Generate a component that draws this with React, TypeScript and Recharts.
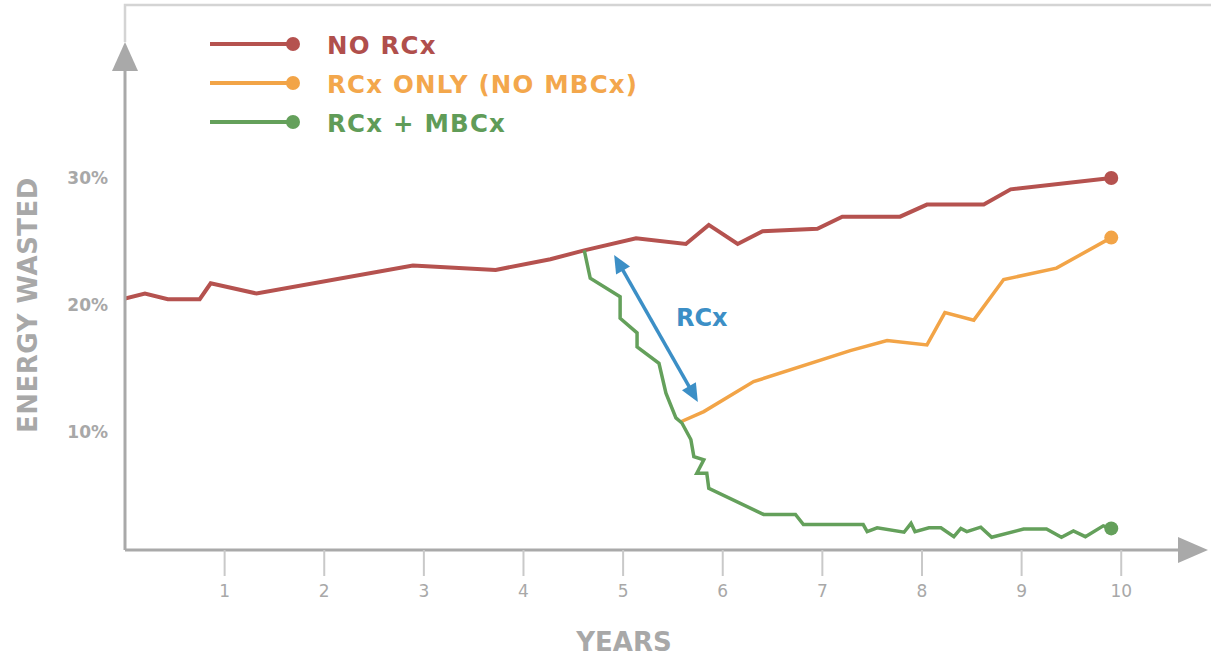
import React from 'react';
import { LineChart, Line, XAxis, YAxis, ReferenceLine, ReferenceDot, Legend } from 'recharts';

// ---- data ----
const noRcxYears = [0, 0.2, 0.43, 0.75, 0.86, 1.32, 2.89, 3.72, 4.27, 4.61, 5.13, 5.63, 5.86, 6.15, 6.4, 6.95, 7.2, 7.78, 8.05, 8.62, 8.89, 9.9];
const noRcxValues = [20.5, 20.9, 20.45, 20.45, 21.7, 20.9, 23.1, 22.75, 23.6, 24.3, 25.25, 24.8, 26.3, 24.8, 25.8, 26.0, 26.95, 26.95, 27.9, 27.9, 29.1, 30.0];

const rcxOnlyYears = [5.58, 5.81, 6.31, 7.28, 7.65, 8.05, 8.23, 8.52, 8.82, 9.35, 9.9];
const rcxOnlyValues = [10.8, 11.6, 13.96, 16.4, 17.2, 16.85, 19.4, 18.8, 22.0, 22.9, 25.3];

const mbcxYears = [4.61, 4.67, 4.97, 4.97, 5.14, 5.14, 5.36, 5.43, 5.53, 5.59, 5.68, 5.71, 5.81, 5.74, 5.84, 5.86, 6.41, 6.73, 6.81, 7.41, 7.45, 7.55, 7.82, 7.89, 7.93, 8.07, 8.19, 8.32, 8.39, 8.45, 8.59, 8.7, 9.02, 9.25, 9.4, 9.52, 9.64, 9.82, 9.9];
const mbcxValues = [24.3, 22.1, 20.65, 18.95, 17.8, 16.7, 15.4, 13.05, 11.1, 10.7, 9.4, 8.05, 7.8, 6.75, 6.75, 5.55, 3.5, 3.5, 2.7, 2.7, 2.15, 2.45, 2.1, 2.8, 2.15, 2.45, 2.45, 1.75, 2.4, 2.15, 2.5, 1.7, 2.35, 2.35, 1.7, 2.2, 1.75, 2.6, 2.4];

const seriesNames = ['NO RCx', 'RCx ONLY (NO MBCx)', 'RCx + MBCx'];
const xTicks = [1, 2, 3, 4, 5, 6, 7, 8, 9, 10];
const yTicks = [10, 20, 30];
const xAxisLabel = 'YEARS';
const yAxisLabel = 'ENERGY WASTED';
const arrowLabel = 'RCx';
const arrowStart = { x: 4.91, y: 23.94 };
const arrowEnd = { x: 5.75, y: 12.36 };
const arrowLabelPos = { x: 5.79, y: 18.98 };

const toPoints = (xs: number[], ys: number[]) => xs.map((x, i) => ({ x, y: ys[i] }));
const noRcxData = toPoints(noRcxYears, noRcxValues);
const rcxOnlyData = toPoints(rcxOnlyYears, rcxOnlyValues);
const mbcxData = toPoints(mbcxYears, mbcxValues);

// ---- styles ----
const RED = '#b5524f';
const ORANGE = '#f2a447';
const GREEN = '#64a05b';
const BLUE = '#3c8fc6';
const AXIS = '#a9a9a9';
const TXT = '#a8a8a8';
const FRAME = '#d4d4d4';
const FONT = '"DejaVu Sans", "Open Sans", sans-serif';
const textColors: Record<string, string> = {
  'NO RCx': '#b04f4c',
  'RCx ONLY (NO MBCx)': '#f3a74c',
  'RCx + MBCx': '#609c58',
};

const makeEndDot = (count: number, color: string) => (props: any) => {
  const { cx, cy, index } = props;
  if (index !== count - 1) return <g key={`d${index}`} />;
  return <circle key={`d${index}`} cx={cx} cy={cy} r={7} fill={color} stroke="none" />;
};

const XDecor = (props: any) => {
  const { x, y, width } = props.viewBox;
  const ex = x + width;
  return (
    <g>
      <polygon points={`${ex - 2},${y - 13} ${ex + 28},${y} ${ex - 2},${y + 13}`} fill={AXIS} />
      <text x={x + 499} y={y + 101} textAnchor="middle" fontFamily={FONT} fontWeight="bold" fontSize={26} fill={TXT}>
        {xAxisLabel}
      </text>
    </g>
  );
};

const YDecor = (props: any) => {
  const { x, y, width, height } = props.viewBox;
  const ex = x + width;
  const cy = y + height / 2 - 5;
  return (
    <g>
      <path d={`M${ex},${y - 28} L${ex},5 L1211,5`} stroke={FRAME} strokeWidth={2.5} fill="none" />
      <polygon points={`${ex - 13},${y + 1} ${ex},${y - 28} ${ex + 13},${y + 1}`} fill={AXIS} />
      <text
        x={37}
        y={cy}
        transform={`rotate(-90, 37, ${cy})`}
        textAnchor="middle"
        fontFamily={FONT}
        fontWeight="bold"
        fontSize={26}
        letterSpacing={0.5}
        fill={TXT}
      >
        {yAxisLabel}
      </text>
    </g>
  );
};

const ArrowShape = (props: any) => {
  const { x1, y1, x2, y2 } = props;
  const dx = x2 - x1;
  const dy = y2 - y1;
  const len = Math.hypot(dx, dy) || 1;
  const ux = dx / len;
  const uy = dy / len;
  const nx = -uy;
  const ny = ux;
  const L = 18;
  const W = 8;
  const head = (tx: number, ty: number, dir: number) => {
    const bx = tx - dir * L * ux;
    const by = ty - dir * L * uy;
    return `${tx},${ty} ${bx + W * nx},${by + W * ny} ${bx - W * nx},${by - W * ny}`;
  };
  return (
    <g>
      <line
        x1={x1 + ux * L * 0.8}
        y1={y1 + uy * L * 0.8}
        x2={x2 - ux * L * 0.8}
        y2={y2 - uy * L * 0.8}
        stroke={BLUE}
        strokeWidth={3.5}
      />
      <polygon points={head(x2, y2, 1)} fill={BLUE} />
      <polygon points={head(x1, y1, -1)} fill={BLUE} />
    </g>
  );
};

const LegendContent = (props: any) => {
  const payload = ([...(props.payload || [])] as any[]).sort(
    (a, b) => seriesNames.indexOf(a.value) - seriesNames.indexOf(b.value)
  );
  return (
    <svg width={520} height={130} style={{ display: 'block', overflow: 'visible' }}>
      {payload.map((p, i) => {
        const cy = 16 + i * 39;
        return (
          <g key={p.value}>
            <line x1={10} y1={cy} x2={92} y2={cy} stroke={p.color} strokeWidth={4} />
            <circle cx={93} cy={cy} r={7} fill={p.color} />
            <text
              x={127}
              y={cy + 10}
              fontFamily={FONT}
              fontWeight="bold"
              fontSize={24.5}
              letterSpacing={1.2}
              fill={textColors[p.value] || p.color}
            >
              {p.value}
            </text>
          </g>
        );
      })}
    </svg>
  );
};

export default function App() {
  return (
    <div style={{ position: 'absolute', left: 0, top: 0, width: 1211, height: 656, background: '#fff' }}>
      <LineChart width={1211} height={656} margin={{ top: 70, right: 31, bottom: 0, left: 0 }}>
        <XAxis
          type="number"
          dataKey="x"
          domain={[0, 10.59]}
          ticks={xTicks}
          allowDataOverflow
          axisLine={{ stroke: AXIS, strokeWidth: 3 }}
          tickLine={{ stroke: '#c9c9c9', strokeWidth: 2 }}
          tickSize={26}
          tickMargin={9}
          height={106}
          tick={{ fill: TXT, fontSize: 17, fontFamily: FONT }}
          label={<XDecor />}
        />
        <YAxis
          type="number"
          dataKey="y"
          domain={[0.7, 38.5]}
          ticks={yTicks}
          allowDataOverflow
          tickFormatter={(v: number) => `${v}%`}
          axisLine={{ stroke: AXIS, strokeWidth: 3 }}
          tickLine={false}
          tickSize={0}
          tickMargin={17}
          width={125}
          tick={{ fill: TXT, fontSize: 17, fontFamily: FONT, fontWeight: 600 }}
          label={<YDecor />}
        />
        <Legend
          layout="horizontal"
          verticalAlign="middle"
          align="center"
          wrapperStyle={{ left: 200, top: 28, width: 520, height: 130 }}
          content={<LegendContent />}
        />
        <Line
          data={noRcxData}
          dataKey="y"
          name={seriesNames[0]}
          stroke={RED}
          strokeWidth={4}
          dot={makeEndDot(noRcxData.length, RED)}
          activeDot={false}
          isAnimationActive={false}
        />
        <Line
          data={rcxOnlyData}
          dataKey="y"
          name={seriesNames[1]}
          stroke={ORANGE}
          strokeWidth={3.5}
          dot={makeEndDot(rcxOnlyData.length, ORANGE)}
          activeDot={false}
          isAnimationActive={false}
        />
        <Line
          data={mbcxData}
          dataKey="y"
          name={seriesNames[2]}
          stroke={GREEN}
          strokeWidth={3.5}
          dot={makeEndDot(mbcxData.length, GREEN)}
          activeDot={false}
          isAnimationActive={false}
        />
        <ReferenceLine segment={[arrowStart, arrowEnd]} ifOverflow="visible" shape={ArrowShape} />
        <ReferenceDot
          x={arrowLabelPos.x}
          y={arrowLabelPos.y}
          r={0}
          fill="none"
          stroke="none"
          ifOverflow="visible"
          label={{ value: arrowLabel, position: 'center', fill: BLUE, fontSize: 24, fontWeight: 'bold', fontFamily: FONT }}
        />
      </LineChart>
    </div>
  );
}
